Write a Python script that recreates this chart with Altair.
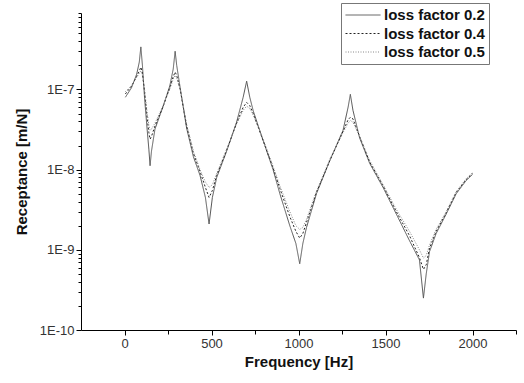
import altair as alt
import pandas as pd

freq = [5, 40, 70, 85, 94, 103, 115, 130, 140, 147, 155, 175, 220, 260, 280, 291, 300, 320,
        357, 396, 434, 465, 486, 505, 530, 587, 644, 682, 702, 720, 740, 797, 854, 893, 950,
        985, 1007, 1025, 1046, 1103, 1180, 1256, 1285, 1298, 1313, 1351, 1409, 1486, 1562,
        1638, 1695, 1718, 1734, 1753, 1791, 1849, 1906, 1963, 2000]

loss_02 = [8.0e-8, 1.05e-7, 1.55e-7, 2.2e-7, 3.4e-7, 2.0e-7, 8.0e-8, 3.2e-8, 1.8e-8, 1.12e-8,
           1.7e-8, 3.2e-8, 6.0e-8, 1.1e-7, 1.8e-7, 3.0e-7, 2.0e-7, 1.05e-7, 3.3e-8, 1.45e-8,
           8.5e-9, 4.5e-9, 2.1e-9, 4.5e-9, 8.0e-9, 1.7e-8, 3.9e-8, 8.0e-8, 1.27e-7, 8.0e-8,
           5.4e-8, 2.3e-8, 1.0e-8, 5.0e-9, 2.0e-9, 1.2e-9, 6.7e-10, 1.2e-9, 1.9e-9, 5.0e-9,
           1.3e-8, 3.1e-8, 6.0e-8, 8.7e-8, 5.5e-8, 2.5e-8, 1.2e-8, 6.0e-9, 2.8e-9, 1.3e-9,
           7.5e-10, 2.5e-10, 5.0e-10, 9.5e-10, 1.6e-9, 2.8e-9, 5.0e-9, 7.3e-9, 8.7e-9]

loss_04 = [8.8e-8, 1.1e-7, 1.45e-7, 1.7e-7, 1.9e-7, 1.6e-7, 9.5e-8, 4.5e-8, 2.9e-8, 2.4e-8,
           2.6e-8, 3.5e-8, 6.0e-8, 1.05e-7, 1.45e-7, 1.65e-7, 1.5e-7, 1.0e-7, 3.5e-8, 1.6e-8,
           9.5e-9, 6.0e-9, 4.5e-9, 5.5e-9, 8.5e-9, 1.75e-8, 3.8e-8, 6.0e-8, 6.9e-8, 6.3e-8,
           5.0e-8, 2.3e-8, 1.05e-8, 5.8e-9, 2.6e-9, 1.7e-9, 1.4e-9, 1.6e-9, 2.2e-9, 5.2e-9,
           1.3e-8, 3.0e-8, 4.2e-8, 4.5e-8, 4.3e-8, 2.6e-8, 1.25e-8, 6.3e-9, 3.0e-9, 1.5e-9,
           8.0e-10, 5.7e-10, 6.5e-10, 1.05e-9, 1.7e-9, 2.9e-9, 5.2e-9, 7.5e-9, 9.0e-9]

loss_05 = [9.4e-8, 1.12e-7, 1.42e-7, 1.6e-7, 1.7e-7, 1.5e-7, 1.0e-7, 5.2e-8, 3.6e-8, 3.1e-8,
           3.2e-8, 3.8e-8, 6.2e-8, 1.0e-7, 1.35e-7, 1.5e-7, 1.4e-7, 1.0e-7, 3.7e-8, 1.7e-8,
           1.0e-8, 7.0e-9, 6.0e-9, 6.5e-9, 9.0e-9, 1.8e-8, 3.7e-8, 5.5e-8, 6.2e-8, 5.8e-8,
           4.8e-8, 2.4e-8, 1.1e-8, 6.3e-9, 3.0e-9, 2.0e-9, 1.8e-9, 1.9e-9, 2.4e-9, 5.4e-9,
           1.35e-8, 2.9e-8, 3.8e-8, 4.1e-8, 3.9e-8, 2.6e-8, 1.3e-8, 6.5e-9, 3.2e-9, 1.7e-9,
           1.0e-9, 7.9e-10, 8.5e-10, 1.15e-9, 1.8e-9, 3.0e-9, 5.3e-9, 7.7e-9, 9.2e-9]

series_names = ["loss factor 0.2", "loss factor 0.4", "loss factor 0.5"]
series_values = [loss_02, loss_04, loss_05]

x_ticks = [0, 250, 500, 750, 1000, 1250, 1500, 1750, 2000, 2250]
y_ticks = [m * 10.0 ** e for e in (-10, -9, -8, -7) for m in range(1, 10)]

rows = []
for name, vals in zip(series_names, series_values):
    for f, v in zip(freq, vals):
        rows.append({"freq": f, "rec": v, "series": name})
df = pd.DataFrame(rows)

FONT = "Liberation Sans"
is_decade = "abs(log(datum.value)/LN10 - round(log(datum.value)/LN10)) < 0.01"

chart = alt.Chart(df).mark_line(strokeWidth=1, clip=True).encode(
    x=alt.X("freq:Q", scale=alt.Scale(domain=[-250, 2250], nice=False, zero=False),
            axis=alt.Axis(values=x_ticks, title="Frequency [Hz]", grid=False, format="d",
                          labelExpr="datum.value % 500 == 0 ? datum.label : ''",
                          labelOverlap=False,
                          tickSize={"condition": {"test": "datum.value % 500 == 0", "value": 5}, "value": 4},
                          labelPadding=2, titlePadding=4)),
    y=alt.Y("rec:Q", scale=alt.Scale(type="log", domain=[1e-10, 9e-7], nice=False),
            axis=alt.Axis(values=y_ticks, title="Receptance [m/N]", grid=False,
                          labelExpr=f"{is_decade} ? '1E' + round(log(datum.value)/LN10) : ''",
                          labelOverlap=False,
                          tickSize={"condition": {"test": is_decade, "value": 5}, "value": 3},
                          labelPadding=2, titlePadding=10)),
    color=alt.Color("series:N", scale=alt.Scale(domain=series_names, range=["#555555", "#222222", "#888888"]),
                    legend=alt.Legend(title=None, orient="none", legendX=260, legendY=-10,
                                      symbolType="stroke", symbolSize=1225, symbolStrokeWidth=1,
                                      clipHeight=16, rowPadding=2.5,
                                      labelFont=FONT, labelFontSize=15, labelFontWeight="bold",
                                      labelColor="#111111", labelOffset=3,
                                      strokeColor="#777777", padding=4,
                                      fillColor="white")),
    strokeDash=alt.StrokeDash("series:N", scale=alt.Scale(domain=series_names, range=[[1, 0], [2, 2], [1, 1.5]]),
                              legend=None),
    order="freq:Q",
).properties(
    width=435, height=317,
    background="white",
    autosize=alt.AutoSizeParams(type="none"),
    padding={"left": 81, "top": 13, "right": 8, "bottom": 53},
).configure_view(stroke=None).configure_axis(
    domainColor="black", tickColor="black", labelColor="#333333", labelFont=FONT, labelFontSize=13,
    titleFont=FONT, titleFontSize=15, titleFontWeight="bold", titleColor="#111111",
)

chart.save("out.html", embed_options={"renderer": "svg", "actions": False})
